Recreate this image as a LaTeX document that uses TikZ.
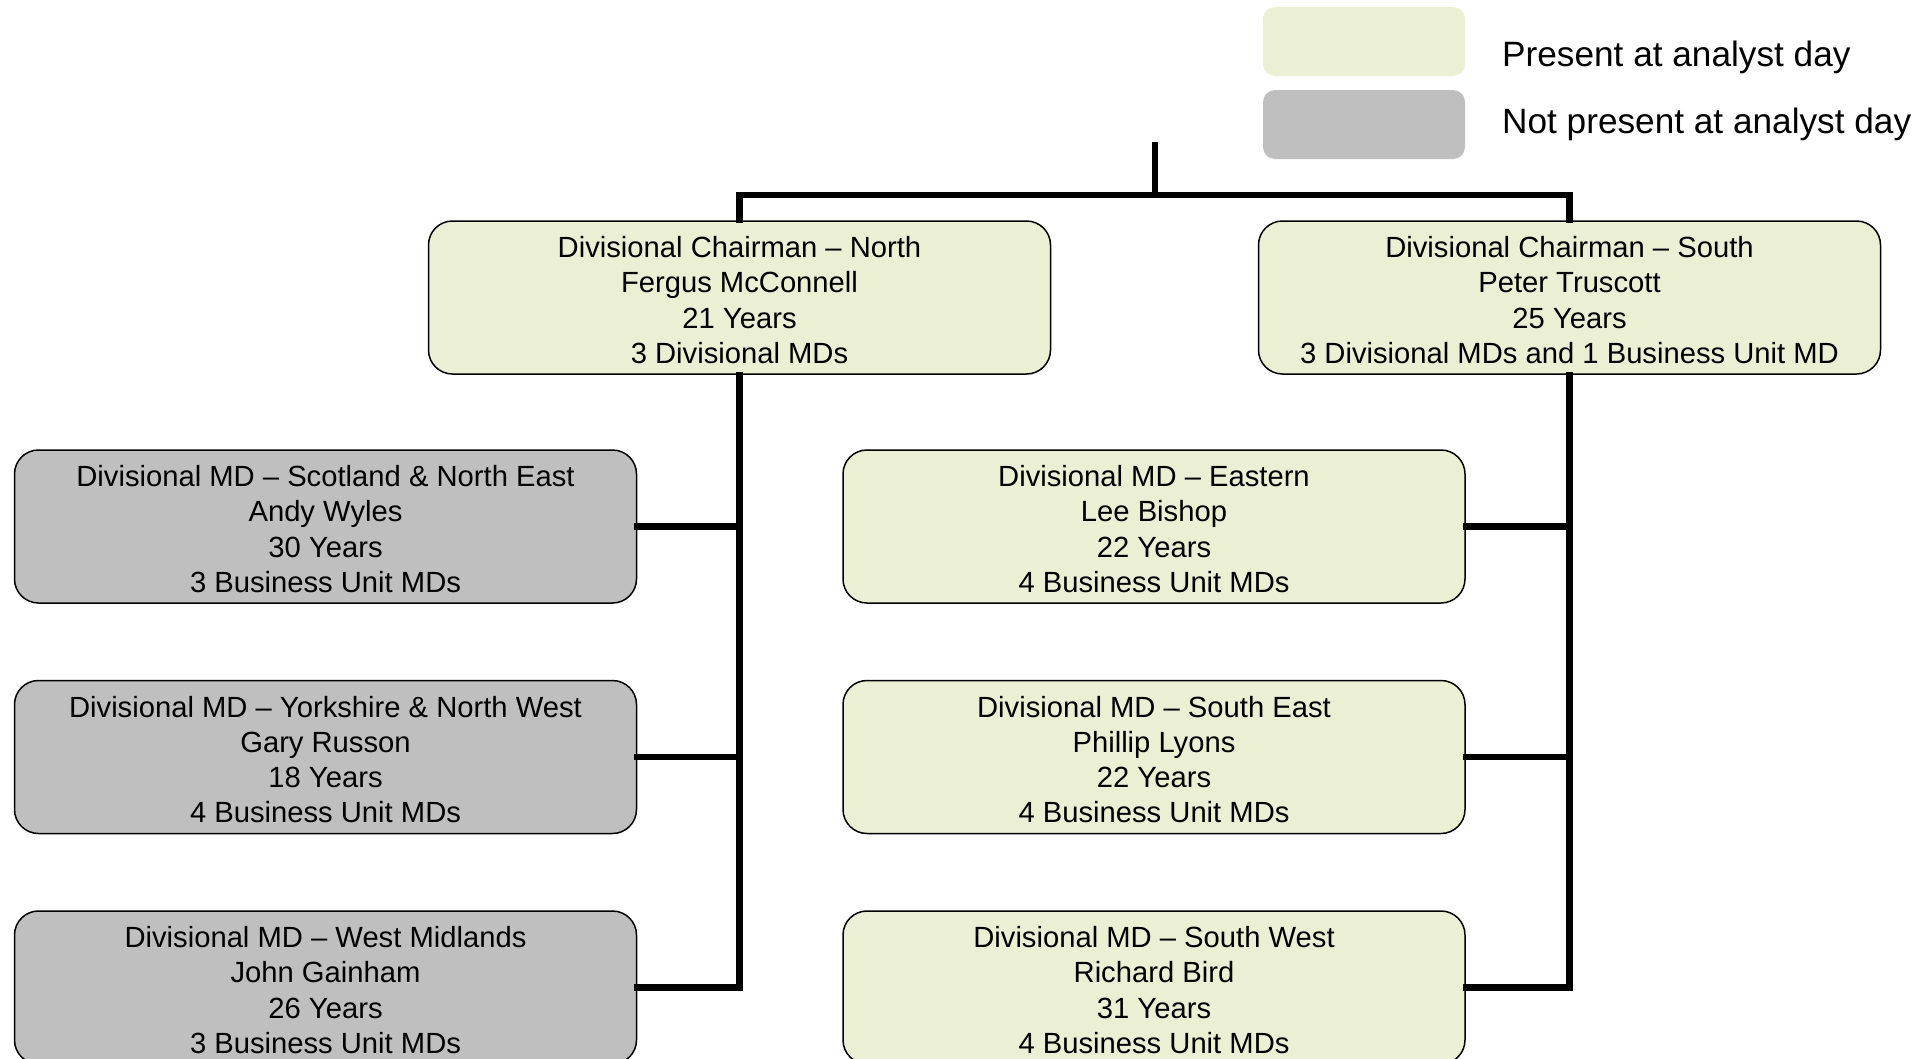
\documentclass[tikz,border=0pt]{standalone}
\usepackage{fontspec}
\setmainfont{Liberation Sans}
\definecolor{pgreen}{HTML}{EBF0D5}
\definecolor{pgray}{HTML}{BFBFBF}
\begin{document}
\begin{tikzpicture}[x=1pt,y=-1pt,
  orgbox/.style={draw=black, line width=1.5pt, rounded corners=24pt, minimum width=622pt, minimum height=153pt,
    inner sep=0pt},
  present/.style={orgbox, fill=pgreen},
  absent/.style={orgbox, fill=pgray},
  boxtext/.style={inner sep=0pt, align=center, font=\fontsize{29.2pt}{35.3pt}\selectfont},
  legbox/.style={rounded corners=12pt, minimum width=202pt, minimum height=69pt, inner sep=0pt},
  legtext/.style={anchor=base west, inner sep=0pt, font=\fontsize{35.2pt}{42pt}\selectfont},
  conn/.style={line width=6.2pt, line cap=rect}]
\useasboundingbox (0,0) rectangle (1930,1058);
\clip (0,0) rectangle (1930,1058);
\fill[white] (0,0) rectangle (1930,1058);

% legend
\node[legbox, fill=pgreen] (lg1) at (1364,41.5) {};
\node[legbox, fill=pgray] (lg2) at (1364,124.5) {};
\node[legtext] (lt1) at (1502,66) {Present at analyst day};
\node[legtext] (lt2) at (1502,133) {Not present at analyst day};

% chairmen
\node[present] (north) at (739.5,297.5) {};
\node[boxtext] (northt) at ([yshift=-2.5pt]north.center) {Divisional Chairman -- North\\Fergus McConnell\\21 Years\\3 Divisional MDs};
\node[present] (south) at (1569.5,297.5) {};
\node[boxtext] (southt) at ([yshift=-2.5pt]south.center) {Divisional Chairman -- South\\Peter Truscott\\25 Years\\3 Divisional MDs and 1 Business Unit MD};

% left column
\node[absent] (scot) at (325.5,526.5) {};
\node[boxtext] (scott) at ([yshift=-2.5pt]scot.center) {Divisional MD -- Scotland \& North East\\Andy Wyles\\30 Years\\3 Business Unit MDs};
\node[absent] (york) at (325.5,757) {};
\node[boxtext] (yorkt) at ([yshift=-2.5pt]york.center) {Divisional MD -- Yorkshire \& North West\\Gary Russon\\18 Years\\4 Business Unit MDs};
\node[absent] (wmid) at (325.5,987.5) {};
\node[boxtext] (wmidt) at ([yshift=-2.5pt]wmid.center) {Divisional MD -- West Midlands\\John Gainham\\26 Years\\3 Business Unit MDs};

% middle column
\node[present] (east) at (1154,526.5) {};
\node[boxtext] (eastt) at ([yshift=-2.5pt]east.center) {Divisional MD -- Eastern\\Lee Bishop\\22 Years\\4 Business Unit MDs};
\node[present] (seast) at (1154,757) {};
\node[boxtext] (seastt) at ([yshift=-2.5pt]seast.center) {Divisional MD -- South East\\Phillip Lyons\\22 Years\\4 Business Unit MDs};
\node[present] (swest) at (1154,987.5) {};
\node[boxtext] (swestt) at ([yshift=-2.5pt]swest.center) {Divisional MD -- South West\\Richard Bird\\31 Years\\4 Business Unit MDs};

% connectors
\coordinate (top) at (1155,145);
\coordinate (bar) at (1155,195);
\draw[conn] (top) -- (bar);
\draw[conn] (north.north) -- (north.north |- bar) -- (south.north |- bar) -- (south.north);
\draw[conn] (north.south) -- (north.south |- wmid.east) -- (wmid.east);
\draw[conn] (scot.east) -- (scot.east -| north.south);
\draw[conn] (york.east) -- (york.east -| north.south);
\draw[conn] (south.south) -- (south.south |- swest.east) -- (swest.east);
\draw[conn] (east.east) -- (east.east -| south.south);
\draw[conn] (seast.east) -- (seast.east -| south.south);
\end{tikzpicture}
\end{document}
